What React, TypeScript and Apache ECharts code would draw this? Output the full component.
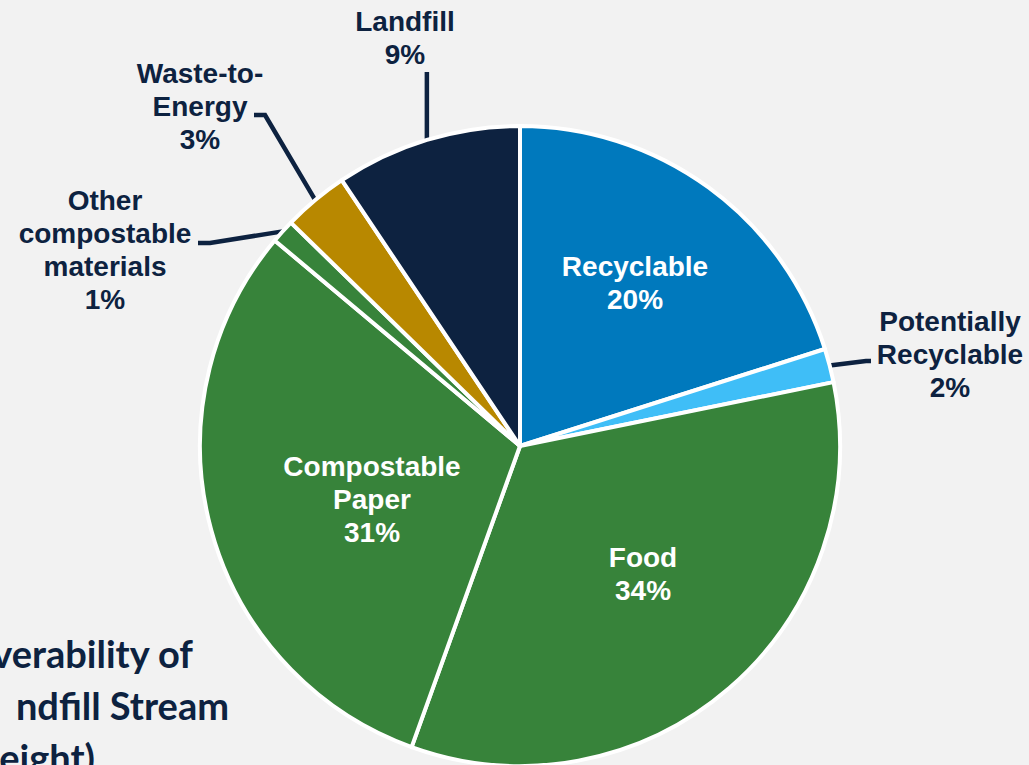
import React, { useEffect, useRef } from "react";
import * as echarts from "echarts";

const CATEGORIES = [
  "Recyclable",
  "Potentially\nRecyclable",
  "Food",
  "Compostable\nPaper",
  "Other\ncompostable\nmaterials",
  "Waste-to-\nEnergy",
  "Landfill",
];
const SHARES = [20.1, 1.7, 33.7, 30.6, 1.2, 3.3, 9.4];
const COLORS = ["#0079BD", "#3FBEF7", "#37833A", "#37833A", "#37833A", "#B88800", "#0D2240"];
const INSIDE = [true, false, true, true, false, false, false];

const TITLE_LINES = ["verability of", "ndfill Stream", "eight)"];

// label block centres (style)
const LABEL_POS: [number, number][] = [
  [635, 283],
  [950, 354],
  [643, 574],
  [372, 499],
  [105, 250],
  [200, 106],
  [405, 38],
];
// leader elbows after the slice edge point (style)
const LEADERS: ([number, number] | null)[][] = [
  [],
  [[866, 361], [871, 361]],
  [],
  [],
  [[210, 243], [198, 243]],
  [[265, 115], [254, 115]],
  [null],
];

const NAVY = "#0D2240";

export default function App() {
  const ref = useRef<HTMLDivElement>(null);
  useEffect(() => {
    if (!ref.current) return;
    const chart = echarts.init(ref.current, undefined, { renderer: "svg" });
    const data = CATEGORIES.map((name, i) => ({
      name,
      value: SHARES[i],
      itemStyle: { color: COLORS[i] },
      label: {
        position: INSIDE[i] ? "inside" : "outside",
        color: INSIDE[i] ? "#FFFFFF" : NAVY,
      },
      labelLine: { show: !INSIDE[i] },
    }));
    chart.setOption({
      animation: false,
      backgroundColor: "#F2F2F2",
      graphic: TITLE_LINES.map((t, i) => ({
        type: "text",
        x: [193, 229, 95][i],
        y: [653, 705, 757][i],
        style: {
          text: t,
          fill: NAVY,
          fontFamily: "Lato",
          fontWeight: "bold",
          fontSize: 38,
          align: "right",
          verticalAlign: "middle",
        },
      })),
      series: [
        {
          type: "pie",
          center: [520, 446],
          radius: 320,
          startAngle: 90,
          clockwise: true,
          avoidLabelOverlap: false,
          itemStyle: { borderColor: "#FFFFFF", borderWidth: 4 },
          emphasis: { disabled: true },
          label: {
            show: true,
            fontFamily: "Liberation Sans, Arial, sans-serif",
            fontWeight: "bold",
            fontSize: 28,
            lineHeight: 33,
            align: "center",
            formatter: (p: any) => `${p.name}\n${Math.round(p.percent)}%`,
          },
          labelLine: {
            show: true,
            smooth: false,
            lineStyle: { color: NAVY, width: 4.5 },
          },
          labelLayout: (params: any) => {
            const i = params.dataIndex;
            const [x, y] = LABEL_POS[i];
            const out: any = { x, y, align: "center", verticalAlign: "middle" };
            const pts = params.labelLinePoints;
            if (!INSIDE[i] && pts && pts.length) {
              const p0 = pts[0];
              const elbows = LEADERS[i].map((e) => (e ? e : [p0[0], 72]));
              out.labelLinePoints = [p0, ...elbows];
            }
            return out;
          },
          data,
        },
      ],
    });
    return () => chart.dispose();
  }, []);
  return (
    <div
      ref={ref}
      style={{ position: "fixed", left: 0, top: 0, width: 1029, height: 765 }}
    />
  );
}
